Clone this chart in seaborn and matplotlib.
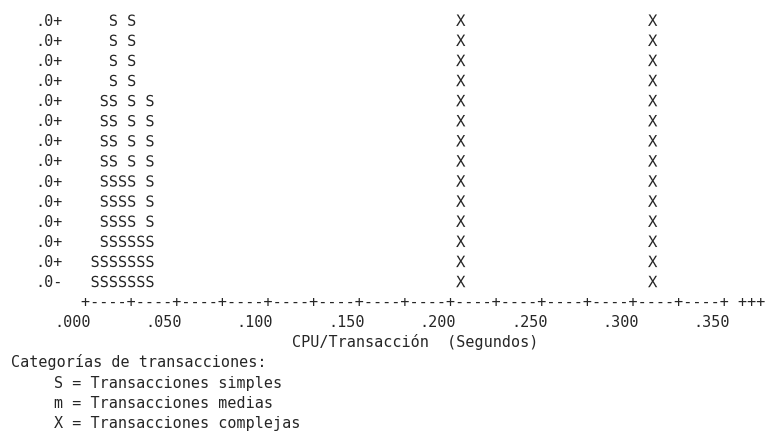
import numpy as np
import pandas as pd
import matplotlib.pyplot as plt
import seaborn as sns

# Data (one column = .005 s)
simple_x = [0.005, 0.010, 0.015, 0.020, 0.025, 0.030, 0.035]
simple_h = [2, 10, 14, 6, 14, 3, 10]
complex_x = [0.205, 0.310]
complex_h = [14, 14]
n_rows = 14
tick_values = [0.000, 0.050, 0.100, 0.150, 0.200, 0.250, 0.300, 0.350]
x_label = "CPU/Transacción  (Segundos)"
legend_title = "Categorías de transacciones:"
legend_lines = ["S = Transacciones simples",
                "m = Transacciones medias",
                "X = Transacciones complejas"]

# one point per printed character
rows = []
for cat, xs, hs in [("S", simple_x, simple_h), ("X", complex_x, complex_h)]:
    for x, h in zip(xs, hs):
        for lvl in range(1, h + 1):
            rows.append({"cpu": x, "level": lvl, "cat": cat})
df = pd.DataFrame(rows)

sns.set_theme(style="white")
plt.rcParams["font.family"] = ["DejaVu Sans Mono", "DejaVu Sans"]
plt.rcParams["mathtext.fontset"] = "custom"
plt.rcParams["mathtext.tt"] = "DejaVu Sans Mono"

ink = "#262626"
cw = 0.005          # width of one character cell in data units
fs = 10.9
base = 0.275        # baseline offset so caps sit centred on a row

fig = plt.figure(figsize=(7.67, 4.33), dpi=100)
ax = fig.add_axes([0, 0, 1, 1])

sns.scatterplot(data=df, x="cpu", y="level", style="cat",
                markers={"S": r"$\mathtt{S}$", "X": r"$\mathtt{X}$"},
                color=ink, s=68, linewidth=0, legend=False, ax=ax)

ax.set_xlim(-0.04705, 0.37254)
ax.set_ylim(-6.537, 15.005)
ax.axis("off")

# y axis labels
for lvl in range(1, n_rows + 1):
    lab = ".0-" if lvl == 1 else ".0+"
    ax.text(-2.5 * cw, lvl - base, lab, ha="right", va="baseline",
            fontsize=fs, color=ink)

# x axis drawn with characters
axis_str = "+----" * 14 + "+" + " +++"
ax.text(-0.5 * cw, 0 - base, axis_str, ha="left", va="baseline",
        fontsize=fs, color=ink)
for v in tick_values:
    ax.text(v + 0.5 * cw, -1 - base, f"{v:.3f}"[1:], ha="right", va="baseline",
            fontsize=fs, color=ink)
ax.text(22.5 * cw, -2 - base, x_label, ha="left", va="baseline",
        fontsize=fs, color=ink)

# legend block
ax.text(-8.2 * cw, -3 - base, legend_title, ha="left", va="baseline",
        fontsize=fs, color=ink)
for i, line in enumerate(legend_lines):
    ax.text(-3.5 * cw, -4 - i - base, line, ha="left", va="baseline",
            fontsize=fs, color=ink)

fig.savefig("out.png", dpi=100, facecolor="white")
